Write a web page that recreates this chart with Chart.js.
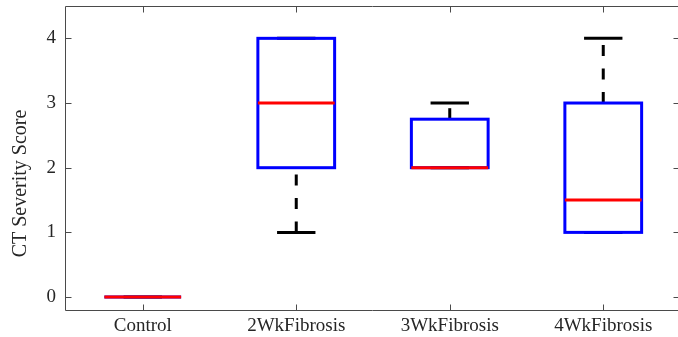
<!DOCTYPE html>
<html>
<head>
<meta charset="utf-8">
<script src="https://cdn.jsdelivr.net/npm/chart.js@4.4.1/dist/chart.umd.min.js"></script>
<style>
  html, body { margin: 0; padding: 0; background: #fff; overflow: hidden; }
  #wrap { width: 690px; height: 337px; }
</style>
</head>
<body>
<div id="wrap"><canvas id="c" width="690" height="337"></canvas></div>
<script>
// ---- data ----
const categories   = ['Control', '2WkFibrosis', '3WkFibrosis', '4WkFibrosis'];
const whiskerLow   = [0, 1, 2, 1];
const quartile1    = [0, 2, 2, 1];
const medians      = [0, 3, 2, 1.5];
const quartile3    = [0, 4, 2.75, 3];
const whiskerHigh  = [0, 4, 3, 4];
const yTickValues  = [0, 1, 2, 3, 4];
const yAxisTitle   = 'CT Severity Score';

const FONT = "'Liberation Serif', 'Times New Roman', serif";
const BOX_W = 0.5, CAP_W = 0.25, TICK_LEN = 6;

const boxPlugin = {
  id: 'boxplot',
  afterDatasetsDraw(chart) {
    const { ctx, chartArea: a, scales: { x, y } } = chart;
    ctx.save();
    ctx.beginPath();
    ctx.rect(a.left, a.top, a.right - a.left, a.bottom - a.top);
    ctx.clip();
    categories.forEach((cat, i) => {
      const pos = i + 1;
      const cx = x.getPixelForValue(pos);
      const xl = x.getPixelForValue(pos - BOX_W / 2);
      const xr = x.getPixelForValue(pos + BOX_W / 2);
      const cl = x.getPixelForValue(pos - CAP_W / 2);
      const cr = x.getPixelForValue(pos + CAP_W / 2);
      // whiskers (dashed, drawn from lower value upward)
      ctx.strokeStyle = '#000';
      ctx.lineWidth = 3;
      ctx.lineCap = 'butt';
      ctx.setLineDash([11, 12.5]);
      ctx.beginPath();
      ctx.moveTo(cx, y.getPixelForValue(whiskerLow[i]));
      ctx.lineTo(cx, y.getPixelForValue(quartile1[i]));
      ctx.moveTo(cx, y.getPixelForValue(quartile3[i]));
      ctx.lineTo(cx, y.getPixelForValue(whiskerHigh[i]));
      ctx.stroke();
      ctx.setLineDash([]);
      // caps
      ctx.beginPath();
      [whiskerLow[i], whiskerHigh[i]].forEach(v => {
        const py = y.getPixelForValue(v);
        ctx.moveTo(cl, py); ctx.lineTo(cr, py);
      });
      ctx.stroke();
      // box
      ctx.strokeStyle = '#0000ff';
      ctx.lineWidth = 3;
      ctx.lineJoin = 'miter';
      const yt = y.getPixelForValue(quartile3[i]);
      const yb = y.getPixelForValue(quartile1[i]);
      ctx.strokeRect(xl, yt, xr - xl, yb - yt);
      // median
      ctx.strokeStyle = '#ff0000';
      ctx.beginPath();
      const ym = y.getPixelForValue(medians[i]);
      ctx.moveTo(xl, ym); ctx.lineTo(xr, ym);
      ctx.stroke();
    });
    ctx.restore();

    // frame (left, top, bottom; right edge lies outside the view) + inward ticks
    ctx.save();
    ctx.strokeStyle = '#4a4a4a';
    ctx.lineWidth = 1;
    const L = Math.round(a.left) - 0.5, R = Math.round(a.right) - 0.5;
    const T = Math.round(a.top) + 0.5, B = Math.round(a.bottom) + 0.5;
    ctx.beginPath();
    ctx.moveTo(R, T); ctx.lineTo(L, T); ctx.lineTo(L, B); ctx.lineTo(R, B);
    x.ticks.forEach(t => {
      const px = Math.round(x.getPixelForValue(t.value)) + 0.5;
      ctx.moveTo(px, B); ctx.lineTo(px, B - TICK_LEN);
      ctx.moveTo(px, T); ctx.lineTo(px, T + TICK_LEN);
    });
    y.ticks.forEach(t => {
      const py = Math.round(y.getPixelForValue(t.value)) + 0.5;
      ctx.moveTo(L, py); ctx.lineTo(L + TICK_LEN, py);
      ctx.moveTo(R, py); ctx.lineTo(R - TICK_LEN, py);
    });
    ctx.stroke();
    ctx.restore();

    // y-axis title
    ctx.save();
    ctx.fillStyle = '#262626';
    ctx.font = '20px ' + FONT;
    ctx.textAlign = 'center';
    ctx.textBaseline = 'middle';
    ctx.translate(21, 183.5);
    ctx.rotate(-Math.PI / 2);
    ctx.fillText(yAxisTitle, 0, 0);
    ctx.restore();
  }
};

new Chart(document.getElementById('c'), {
  type: 'scatter',
  data: {
    datasets: [{
      data: medians.map((m, i) => ({ x: i + 1, y: m })),
      pointRadius: 0,
      showLine: false
    }]
  },
  options: {
    responsive: false,
    animation: false,
    devicePixelRatio: 1,
    layout: { padding: { top: 6, right: 10, left: 0, bottom: 0 } },
    plugins: { legend: { display: false }, tooltip: { enabled: false } },
    scales: {
      x: {
        type: 'linear',
        min: 0.5, max: 4.5,
        afterBuildTicks: s => { s.ticks = categories.map((c, i) => ({ value: i + 1 })); },
        afterFit: s => { s.height = 27; s.paddingLeft = 0; s.paddingRight = 0; },
        grid: { display: false, drawTicks: false },
        border: { display: false },
        ticks: {
          color: '#262626',
          font: { family: FONT, size: 19 },
          padding: 5,
          maxRotation: 0,
          autoSkip: false,
          callback: (v) => categories[Math.round(v) - 1] || ''
        }
      },
      y: {
        type: 'linear',
        min: -0.2, max: 4.5,
        afterBuildTicks: s => { s.ticks = yTickValues.map(v => ({ value: v })); },
        afterFit: s => { s.width = 66; s.paddingTop = 0; s.paddingBottom = 0; },
        grid: { display: false, drawTicks: false },
        border: { display: false },
        ticks: {
          color: '#262626',
          font: { family: FONT, size: 19 },
          padding: 10,
          callback: v => String(v)
        }
      }
    }
  },
  plugins: [boxPlugin]
});
</script>
</body>
</html>
